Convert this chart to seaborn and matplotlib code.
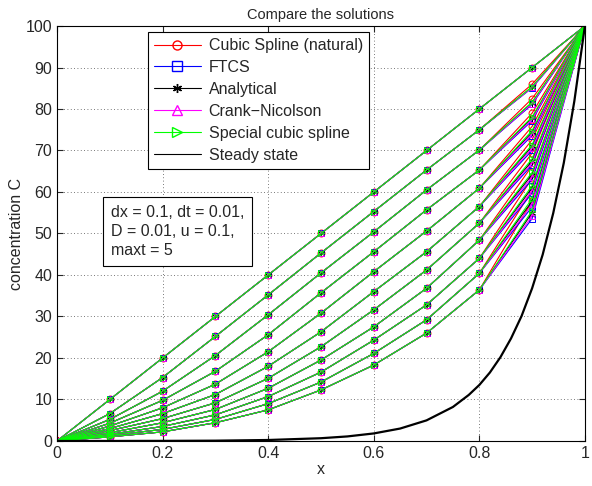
import numpy as np
import pandas as pd
import matplotlib
matplotlib.use("Agg")
import matplotlib.pyplot as plt
import seaborn as sns
from matplotlib.lines import Line2D

# grid points
x_pts = [0.0, 0.1, 0.2, 0.3, 0.4, 0.5, 0.6, 0.7, 0.8, 0.9, 1.0]

# concentration profiles (one row per plotted time step)
c_t0 = [0, 10.0, 20.0, 30.0, 40.0, 50.0, 60.0, 70.0, 80.0, 90.0, 100]
c_t1 = [0, 6.6, 15.3, 25.2, 35.2, 45.3, 55.3, 65.3, 75.0, 85.3, 100]
c_t2 = [0, 5.2, 12.0, 20.6, 30.4, 40.5, 50.4, 60.5, 70.1, 81.5, 100]
c_t3 = [0, 4.3, 9.8, 16.8, 25.6, 35.7, 45.6, 55.7, 65.3, 77.8, 100]
c_t4 = [0, 3.6, 8.0, 13.7, 21.5, 30.8, 40.8, 50.6, 60.9, 74.4, 100]
c_t5 = [0, 3.0, 6.6, 11.2, 18.0, 26.3, 36.0, 45.6, 56.5, 71.0, 100]
c_t6 = [0, 2.5, 5.4, 9.2, 15.1, 22.7, 31.6, 41.2, 52.5, 67.5, 100]
c_t7 = [0, 2.0, 4.4, 7.6, 12.7, 19.5, 27.5, 36.8, 48.4, 64.2, 100]
c_t8 = [0, 1.6, 3.5, 6.3, 10.7, 16.6, 24.3, 32.8, 44.0, 61.0, 100]
c_t9 = [0, 1.3, 2.8, 5.2, 9.0, 14.2, 21.1, 29.2, 40.4, 57.8, 100]
c_t10 = [0, 1.0, 2.2, 4.4, 7.5, 12.3, 18.3, 26.0, 36.4, 55.0, 100]
profiles = [c_t0, c_t1, c_t2, c_t3, c_t4, c_t5, c_t6, c_t7, c_t8, c_t9, c_t10]

# values at x = 0.9 differ a little between the methods
x09_spline = [90.0, 86.0, 82.5, 79.0, 75.8, 72.6, 69.4, 66.3, 63.3, 60.4, 57.8]
x09_ftcs = [90.0, 85.1, 81.1, 77.2, 73.6, 70.0, 66.5, 63.0, 59.7, 56.4, 53.6]
x09_analytical = [90.0, 85.3, 81.5, 77.8, 74.4, 71.0, 67.5, 64.2, 61.0, 57.8, 55.0]
x09_cn = [90.0, 85.2, 81.3, 77.5, 74.0, 70.5, 67.0, 63.6, 60.3, 57.0, 54.2]
x09_special = [90.0, 85.4, 81.7, 78.1, 74.8, 71.4, 68.0, 64.7, 61.5, 58.4, 55.5]

methods = ["Cubic Spline (natural)", "FTCS", "Analytical", "Crank\u2212Nicolson",
           "Special cubic spline"]
colors = ["#ff0000", "#0000ff", "#000000", "#ff00ff", "#00ff00"]
mark = ["o", "s", (6, 2, 0), "^", ">"]
x09 = [x09_spline, x09_ftcs, x09_analytical, x09_cn, x09_special]

# steady state curve
x_ss = [0.0, 0.1, 0.2, 0.3, 0.4, 0.5, 0.55, 0.6, 0.65, 0.7, 0.75, 0.78, 0.8,
        0.82, 0.84, 0.86, 0.88, 0.9, 0.92, 0.94, 0.96, 0.98, 1.0]
c_ss = [0.0, 0.01, 0.03, 0.08, 0.24, 0.67, 1.1, 1.82, 3.0, 4.97, 8.2, 11.1, 13.5,
        16.5, 20.2, 24.7, 30.1, 36.8, 44.9, 54.9, 67.0, 81.9, 100.0]

sns.set_style("ticks")
plt.rcParams['font.family'] = ['Liberation Sans', 'DejaVu Sans']
fs = 11.5

fig = plt.figure(figsize=(5.92, 4.86), dpi=100)
ax = fig.add_axes([0.0963, 0.0926, 0.8917, 0.8539])

rows = []
for m, name in enumerate(methods):
    for k, prof in enumerate(profiles):
        vals = list(prof)
        vals[9] = x09[m][k]
        for xi, ci in zip(x_pts, vals):
            rows.append({"method": name, "step": k, "x": xi, "C": ci})
df = pd.DataFrame(rows)

for m, name in enumerate(methods):
    sub = df[df["method"] == name]
    sns.lineplot(data=sub, x="x", y="C", units="step", estimator=None,
                 color=colors[m], marker=mark[m], markersize=5,
                 markerfacecolor="none", markeredgecolor=colors[m], markeredgewidth=0.7,
                 linewidth=0.8, ax=ax, legend=False, sort=False)

sns.lineplot(x=x_ss, y=c_ss, color="black", linewidth=1.6, ax=ax, legend=False)

ax.set_xlim(0, 1)
ax.set_ylim(0, 100)
ax.set_xticks([0, 0.2, 0.4, 0.6, 0.8, 1.0])
ax.set_xticklabels(["0", "0.2", "0.4", "0.6", "0.8", "1"])
ax.set_yticks(range(0, 101, 10))
ax.grid(True, linestyle=(0, (1, 3)), color="black", linewidth=0.6, alpha=0.7)
ax.tick_params(direction="in", length=4, labelsize=fs, top=True, right=True)
for s in ax.spines.values():
    s.set_visible(True)
    s.set_linewidth(0.8)
    s.set_color("black")

ax.set_title("Compare the solutions", fontsize=10.5, pad=5)
ax.set_xlabel("x", fontsize=fs, labelpad=1)
ax.set_ylabel("concentration C", fontsize=fs, labelpad=1)

handles = [Line2D([], [], color=colors[m], marker=mark[m], markerfacecolor="none",
                  markersize=6.5, linewidth=0.8) for m in range(len(methods))]
handles.append(Line2D([], [], color="black", linewidth=0.8))
labels = methods + ["Steady state"]
leg = ax.legend(handles, labels, loc="upper left", bbox_to_anchor=(0.172, 0.986),
                borderaxespad=0, fontsize=fs, frameon=True, fancybox=False,
                edgecolor="black", framealpha=1, handlelength=2.9, labelspacing=0.43,
                borderpad=0.4, handletextpad=0.5)
leg.get_frame().set_linewidth(0.8)

ax.text(0.102, 0.569, "dx = 0.1, dt = 0.01,\nD = 0.01, u = 0.1,\nmaxt = 5",
        transform=ax.transAxes, fontsize=fs, va="top", ha="left", linespacing=1.32,
        bbox=dict(boxstyle="square,pad=0.5", facecolor="white", edgecolor="black",
                  linewidth=0.8))

fig.savefig("out.png", dpi=100)
